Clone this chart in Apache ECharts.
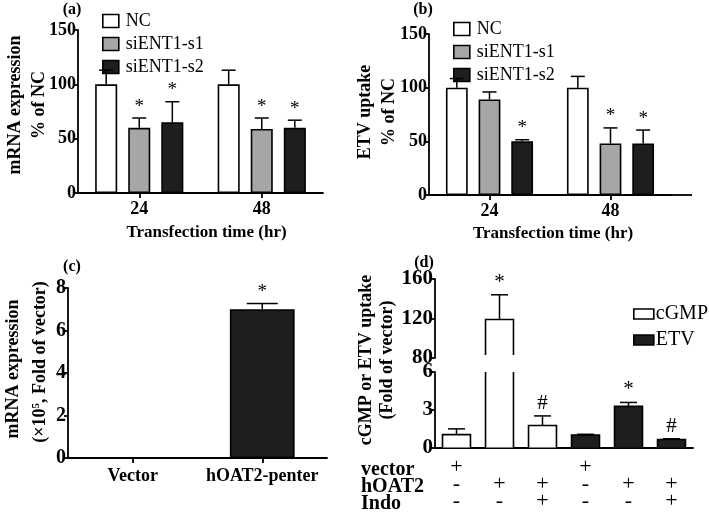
<!DOCTYPE html>
<html><head><meta charset="utf-8">
<script src="https://cdn.jsdelivr.net/npm/echarts@6/dist/echarts.min.js"></script>
<style>html,body{margin:0;padding:0;background:#fff}#c{width:709px;height:512px}</style>
</head><body><div id="c"></div><script>
const FONT = 'Liberation Serif';
// ---- panel (a) / (b)
const timeCats = ['24', '48'];
const groupNames = ['NC', 'siENT1-s1', 'siENT1-s2'];
const groupColors = ['#ffffff', '#a6a6a6', '#1e1e1e'];
const mrnaNC = [100, 100], mrnaS1 = [60, 59], mrnaS2 = [65, 60];
const mrnaNCErr = [13, 13], mrnaS1Err = [9, 10], mrnaS2Err = [19, 7];
const mrnaMarks = [['', ''], ['*', '*'], ['*', '*']];
const etvNC = [100, 100], etvS1 = [89, 48], etvS2 = [50, 48];
const etvNCErr = [8.5, 10.5], etvS1Err = [7, 14.5], etvS2Err = [1.5, 12.5];
const etvMarks = [['', ''], ['', '*'], ['*', '*']];
// ---- panel (c)
const cCats = ['Vector', 'hOAT2-penter'];
const cValues = [0, 7.0];
const cErrors = [0, 0.27];
const cMarks = ['', '*'];
// ---- panel (d)
const dVectorRow = ['+', '', '', '+', '', ''];
const dHoatRow = ['-', '+', '+', '-', '+', '+'];
const dIndoRow = ['-', '-', '+', '-', '-', '+'];
const dRowNames = ['vector', 'hOAT2', 'Indo'];
const cgmpValues = [1.02, 119, 1.75, null, null, null];
const cgmpErrors = [0.46, 25, 0.76, null, null, null];
const etvDValues = [null, null, null, 0.98, 3.27, 0.64];
const etvDErrors = [null, null, null, 0.07, 0.31, 0.05];
const dMarks = ['', '*', '#', '', '*', '#'];
// tick settings
const aTicks = [0, 150, 50], cTicks = [0, 8, 2], dTopTicks = [80, 160, 40], dBotTicks = [0, 6, 3];

const chart = echarts.init(document.getElementById('c'));
const AX = '#000', LW = 1.8;
function valueAxis(grid, t, fs, extra) {
  return Object.assign({
    type: 'value', gridIndex: grid, min: t[0], max: t[1], interval: t[2],
    axisLine: { show: true, lineStyle: { color: AX, width: LW } },
    axisTick: { show: true, length: 4, lineStyle: { color: AX, width: LW } },
    axisLabel: { margin: 2, color: '#000', fontFamily: FONT, fontWeight: 'bold', fontSize: fs },
    splitLine: { show: false }
  }, extra || {});
}
function catAxis(grid, cats, extra) {
  return Object.assign({
    type: 'category', gridIndex: grid, data: cats,
    axisLine: { show: true, lineStyle: { color: AX, width: LW } },
    axisTick: { show: true, alignWithLabel: true, length: 5, lineStyle: { color: AX, width: LW } },
    axisLabel: { margin: 7, color: '#000', fontFamily: FONT, fontWeight: 'bold', fontSize: 18, interval: 0 }
  }, extra || {});
}
// error bars + significance marks
function errSeries(name, xi, yi, items, marks, step, capW, markSize) {
  return {
    type: 'custom', name: name, xAxisIndex: xi, yAxisIndex: yi, z: 5, silent: true,
    data: items,
    renderItem: function (params, api) {
      const cat = api.value(0), v = api.value(1), e = api.value(2), slot = api.value(3);
      const cs = params.coordSys;
      const band = api.size([1, 0])[0];
      const p0 = api.coord([cat, v]);
      const cx = p0[0] + slot * step * band;
      const y0 = p0[1], y1 = api.coord([cat, v + e])[1];
      if (y0 < cs.y - 0.5 || y1 > cs.y + cs.height + 0.5) return;
      const children = [];
      if (e > 0) {
        children.push({ type: 'line', shape: { x1: cx, y1: y0, x2: cx, y2: y1 }, style: { stroke: '#000', lineWidth: 1.5 } });
        children.push({ type: 'line', shape: { x1: cx - capW / 2, y1: y1, x2: cx + capW / 2, y2: y1 }, style: { stroke: '#000', lineWidth: 1.5 } });
      }
      const m = marks[params.dataIndex];
      if (m) children.push({ type: 'text', x: cx, y: y1 - 2, style: { text: m, fill: '#000', font: markSize + 'px "Liberation Serif"', align: 'center', verticalAlign: 'bottom' } });
      return { type: 'group', children: children };
    }
  };
}
function errItems(vals, errs, marks) {
  const items = [], ms = [];
  const n = vals.length;
  vals.forEach(function (arr, g) {
    arr.forEach(function (v, i) {
      if (v == null) return;
      items.push([i, v, errs[g][i], g - (n - 1) / 2]);
      ms.push(marks[g][i]);
    });
  });
  return { items: items, marks: ms };
}
// panel (d) bars drawn through the broken axis
function dBarSeries(name, xi, yi, vals, fill) {
  const data = [];
  vals.forEach(function (v, i) { if (v != null) data.push([i, v]); });
  return {
    type: 'custom', name: name, xAxisIndex: xi, yAxisIndex: yi, z: 3, data: data,
    renderItem: function (params, api) {
      const cat = api.value(0), v = api.value(1);
      const cs = params.coordSys;
      const w = api.size([1, 0])[0] * 0.65;
      const cx = api.coord([cat, v])[0];
      let top = api.coord([cat, v])[1], base = api.coord([cat, 0])[1];
      const gTop = cs.y, gBot = cs.y + cs.height;
      if (top > gBot) return;
      const clipped = top < gTop;
      if (clipped) top = gTop;
      if (base > gBot) base = gBot - 3;
      if (top >= base) return;
      const l = cx - w / 2, r = cx + w / 2;
      const st = { stroke: '#000', lineWidth: 1.6, fill: null };
      const children = [{ type: 'rect', shape: { x: l, y: top, width: w, height: base - top }, style: { fill: fill } }];
      if (clipped) {
        children.push({ type: 'line', shape: { x1: l, y1: base, x2: l, y2: top }, style: st });
        children.push({ type: 'line', shape: { x1: r, y1: base, x2: r, y2: top }, style: st });
      } else {
        children.push({ type: 'polyline', shape: { points: [[l, base], [l, top], [r, top], [r, base]] }, style: st });
      }
      return { type: 'group', children: children };
    }
  };
}

const aErr = errItems([mrnaNC, mrnaS1, mrnaS2], [mrnaNCErr, mrnaS1Err, mrnaS2Err], mrnaMarks);
const bErr = errItems([etvNC, etvS1, etvS2], [etvNCErr, etvS1Err, etvS2Err], etvMarks);
const cErr = errItems([cValues], [cErrors], [cMarks]);
const dCgmpErr = errItems([cgmpValues], [cgmpErrors], [dMarks]);
const dEtvErr = errItems([etvDValues], [etvDErrors], [dMarks]);

const barStep = 0.27; // barWidth 18% + gap 50% of bar
function groupBars(xi, vals) {
  return vals.map(function (arr, g) {
    return {
      type: 'bar', name: groupNames[g], xAxisIndex: xi, yAxisIndex: xi, data: arr,
      barWidth: '18%', barGap: '50%',
      itemStyle: { color: groupColors[g], borderColor: '#000', borderWidth: 1.6 }
    };
  });
}
function legendItems(names, colors) {
  return names.map(function (n, i) { return { name: n, icon: 'rect', itemStyle: { color: colors[i], borderColor: '#000', borderWidth: 1.6 } }; });
}
const txt = function (text, x, y, size, weight, rot, align) {
  return { type: 'text', x: x, y: y, rotation: rot || 0, silent: true,
    style: { text: text, fill: '#000', font: (weight || 'bold') + ' ' + size + 'px "Liberation Serif"', align: align || 'center', verticalAlign: 'middle' } };
};
const R = Math.PI / 2;
const dCats = dHoatRow.map(function (_, i) { return 'c' + i; });
const nameStyle = function (pl) { return { color: '#000', fontFamily: FONT, fontWeight: 'bold', fontSize: 17, padding: [0, 0, 0, pl] }; };

chart.setOption({
  animation: false,
  backgroundColor: '#fff',
  grid: [
    { left: 78, top: 30, width: 245, height: 163 },
    { left: 429, top: 34, width: 242, height: 161 },
    { left: 68, top: 288, width: 259, height: 170 },
    { left: 435, top: 279, width: 258, height: 79 },
    { left: 435, top: 372, width: 258, height: 78 }
  ],
  xAxis: [
    catAxis(0, timeCats, { name: 'Transfection time (hr)', nameLocation: 'middle', nameGap: 31, nameTextStyle: nameStyle(12) }),
    catAxis(1, timeCats, { name: 'Transfection time (hr)', nameLocation: 'middle', nameGap: 30, nameTextStyle: nameStyle(6) }),
    catAxis(2, cCats, { axisLabel: { margin: 9, color: '#000', fontFamily: FONT, fontWeight: 'bold', fontSize: 18, interval: 0 } }),
    catAxis(3, dCats, { show: false }),
    catAxis(4, dCats, { axisTick: { show: false },
      axisLabel: { margin: 11, interval: 0, color: '#000', fontFamily: FONT, fontSize: 22, lineHeight: 17,
        formatter: function (v, i) { return [dVectorRow[i] || ' ', dHoatRow[i] || ' ', dIndoRow[i] || ' '].join('\n'); } } })
  ],
  yAxis: [
    valueAxis(0, aTicks, 18),
    valueAxis(1, aTicks, 18),
    valueAxis(2, cTicks, 20),
    valueAxis(3, dTopTicks, 21),
    valueAxis(4, dBotTicks, 21)
  ],
  legend: [
    { left: 102, top: 12, orient: 'vertical', padding: 0, itemWidth: 16, itemHeight: 13, itemGap: 5, selectedMode: false,
      data: legendItems(groupNames, groupColors), textStyle: { fontFamily: FONT, fontSize: 18, lineHeight: 13, color: '#000', padding: [0, 0, 0, 2] } },
    { left: 453, top: 20, orient: 'vertical', padding: 0, itemWidth: 16, itemHeight: 13, itemGap: 5, selectedMode: false,
      data: legendItems(groupNames, groupColors), textStyle: { fontFamily: FONT, fontSize: 18, lineHeight: 13, color: '#000', padding: [0, 0, 0, 2] } },
    { left: 633, top: 304, orient: 'vertical', padding: 0, itemWidth: 20, itemHeight: 10, itemGap: 6, selectedMode: false,
      data: legendItems(['cGMP', 'ETV'], ['#ffffff', '#1e1e1e']), textStyle: { fontFamily: FONT, fontSize: 20, lineHeight: 10, color: '#000', padding: [0, 0, 0, -3] } }
  ],
  graphic: [
    txt('(a)', 72, 10, 16), txt('(b)', 423, 10, 16), txt('(c)', 72, 267, 16), txt('(d)', 424, 263, 16),
    txt('mRNA expression', 15, 105, 18, 'bold', R), txt('% of NC', 39, 105, 18, 'bold', R),
    txt('ETV uptake', 365, 112, 18, 'bold', R), txt('% of NC', 389, 112, 18, 'bold', R),
    txt('mRNA expression', 13, 369, 18, 'bold', R),
    { type: 'text', x: 40, y: 362, rotation: R, silent: true,
      style: { text: '(×10{s|5}, Fold of vector)', fill: '#000', font: 'bold 18px "Liberation Serif"', align: 'center', verticalAlign: 'middle',
        rich: { s: { fontSize: 11, fontWeight: 'bold', fontFamily: FONT, verticalAlign: 'top', padding: [0, 0, 8, 0] } } } },
    txt('cGMP or ETV uptake', 366, 360, 18, 'bold', R), txt('(Fold of vector)', 387, 360, 18, 'bold', R),
    txt(dRowNames[0], 361, 470, 20, 'bold', 0, 'left'), txt(dRowNames[1], 361, 487, 20, 'bold', 0, 'left'), txt(dRowNames[2], 361, 504, 20, 'bold', 0, 'left'),
    { type: 'line', silent: true, shape: { x1: 671, y1: 195, x2: 692, y2: 195 }, style: { stroke: '#000', lineWidth: LW } }
  ],
  series: [].concat(
    groupBars(0, [mrnaNC, mrnaS1, mrnaS2]),
    groupBars(1, [etvNC, etvS1, etvS2]),
    [
      errSeries('errA', 0, 0, aErr.items, aErr.marks, barStep, 14, 19),
      errSeries('errB', 1, 1, bErr.items, bErr.marks, barStep, 14, 19),
      { type: 'bar', name: 'hOAT2', xAxisIndex: 2, yAxisIndex: 2, data: cValues, barWidth: '50%',
        itemStyle: { color: '#1e1e1e', borderColor: '#000', borderWidth: 1.6 } },
      errSeries('errC', 2, 2, cErr.items, cErr.marks, 0, 31, 19),
      dBarSeries('cGMP', 3, 3, cgmpValues, '#ffffff'),
      dBarSeries('cGMP', 4, 4, cgmpValues, '#ffffff'),
      dBarSeries('ETV', 3, 3, etvDValues, '#1e1e1e'),
      dBarSeries('ETV', 4, 4, etvDValues, '#1e1e1e'),
      errSeries('errD1', 3, 3, dCgmpErr.items, dCgmpErr.marks, 0, 17, 21),
      errSeries('errD2', 4, 4, dCgmpErr.items, dCgmpErr.marks, 0, 17, 21),
      errSeries('errD3', 4, 4, dEtvErr.items, dEtvErr.marks, 0, 17, 21)
    ]
  )
});
</script></body></html>
